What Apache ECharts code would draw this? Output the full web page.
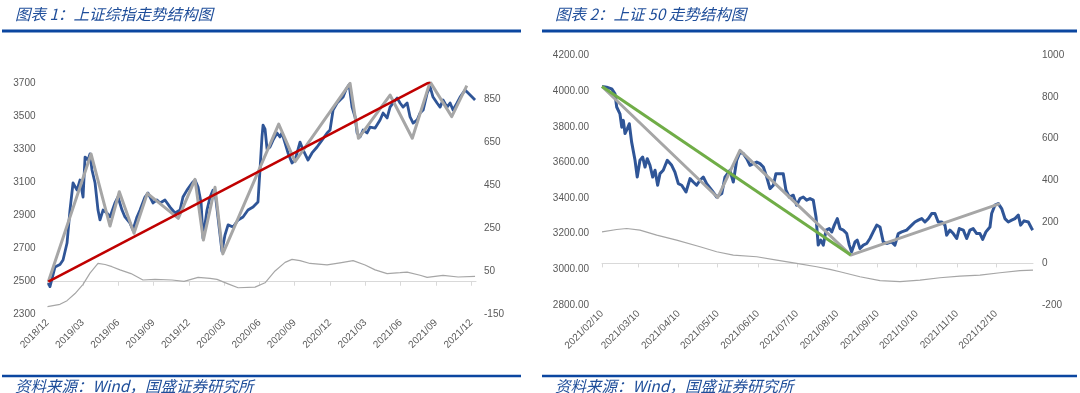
<!DOCTYPE html>
<html><head><meta charset="utf-8">
<script src="https://cdn.jsdelivr.net/npm/echarts@6/dist/echarts.min.js"></script>
<style>html,body{margin:0;padding:0;background:#fff;}#c{width:1080px;height:393px;}</style>
</head><body><div id="c"></div>
<script>
// ---------- Chart 1: 上证综指 (x = months since 2018/12 tick) ----------
const leftXLabels = ['2018/12','2019/03','2019/06','2019/09','2019/12','2020/03','2020/06','2020/09','2020/12','2021/03','2021/06','2021/09','2021/12'];
const leftXTicks = [0,3,6,9,12,15,18,21,24,27,30,33,36];
const shComposite = [
  [0.07,2488],[0.21,2466],[0.64,2585],[1.06,2600],[1.32,2627],[1.66,2730],[1.91,2930],[2.17,3094],[2.51,3051],[2.76,3112],
  [3.02,3009],[3.19,3251],[3.44,3233],[3.61,3270],[3.78,3173],[4.04,3094],[4.29,2930],[4.46,2870],[4.72,2930],[5.06,2912],
  [5.31,2888],[5.73,2973],[5.99,3009],[6.33,2930],[6.58,2888],[7.01,2851],[7.26,2809],[7.60,2888],[7.86,2930],[8.28,3009],
  [8.54,3033],[8.96,2973],[9.30,2991],[9.56,2973],[9.98,2991],[10.41,2948],[10.83,2912],[11.26,2930],[11.51,3009],[11.85,3051],
  [12.28,3094],[12.53,3112],[12.79,3070],[13.05,2973],[13.21,2760],[13.55,2930],[13.81,3009],[14.06,3051],[14.23,3040],[14.48,2888],
  [14.82,2680],[15.08,2780],[15.34,2840],[15.76,2827],[16.19,2870],[16.61,2888],[17.03,2930],[17.46,2948],[17.88,2979],[18.05,3173],
  [18.22,3373],[18.31,3445],[18.48,3420],[18.65,3300],[18.90,3312],[19.16,3354],[19.50,3397],[19.75,3373],[19.92,3397],[20.18,3336],
  [20.43,3276],[20.77,3215],[21.03,3233],[21.45,3342],[21.71,3294],[22.13,3233],[22.47,3276],[22.90,3312],[23.32,3354],[23.75,3397],
  [24.00,3415],[24.26,3536],[24.60,3579],[24.85,3597],[25.11,3615],[25.36,3660],[25.62,3690],[25.87,3554],[26.13,3494],[26.30,3397],
  [26.55,3373],[26.81,3415],[27.15,3397],[27.40,3433],[27.83,3427],[28.25,3476],[28.51,3518],[28.85,3488],[29.10,3554],[29.36,3579],
  [29.70,3609],[29.95,3579],[30.21,3554],[30.55,3579],[30.80,3494],[31.06,3457],[31.40,3476],[31.65,3518],[31.91,3536],[32.25,3639],
  [32.50,3676],[32.75,3615],[33.09,3579],[33.35,3554],[33.60,3597],[33.94,3554],[34.20,3579],[34.45,3536],[34.79,3579],[35.05,3615],
  [35.47,3657],[35.73,3639],[36.07,3615],[36.32,3597]
];
const shTrend = [
  [0.07,2496],[3.70,3270],[5.31,2833],[6.10,3041],[7.35,2789],[8.48,3031],[11.11,2880],[12.53,3116],[13.24,2748],[14.23,3068],
  [14.89,2664],[19.64,3451],[21.03,3223],[25.70,3698],[26.41,3365],[29.10,3627],[30.99,3365],[32.50,3707],[34.34,3496],[35.62,3684]
];
const shLongTrend = [[0.07,2496],[32.50,3707]];
const shIndicator = [
  [0,-116],[1.06,-105],[1.66,-88],[2.34,-55],[3.02,-12],[3.61,40],[4.29,85],[4.89,80],[5.48,70],[6.16,55],
  [7.09,38],[8.11,8],[9.13,11],[10.58,8],[11.60,2],[12.79,20],[13.81,16],[14.40,11],[15.34,-10],[16.19,-28],
  [17.63,-25],[18.48,-5],[19.33,50],[20.18,90],[20.77,104],[21.45,98],[22.30,85],[23.75,78],[24.85,88],[25.96,98],
  [26.98,78],[27.83,55],[28.85,38],[29.95,42],[30.55,45],[31.65,30],[32.25,20],[33.60,30],[34.88,22],[36.32,25]
];

// ---------- Chart 2: 上证50 (x = days since 2021/02/10) ----------
const rightXLabels = ['2021/02/10','2021/03/10','2021/04/10','2021/05/10','2021/06/10','2021/07/10','2021/08/10','2021/09/10','2021/10/10','2021/11/10','2021/12/10'];
const rightXTicks = [0,28,59,89,120,150,181,212,242,273,303];
const sz50 = [
  [0,4026],[3.6,4022],[7.5,4013],[10.0,3985],[11.3,3911],[13.8,3873],[15.2,3798],[16.4,3836],[17.7,3762],[19.5,3790],
  [21.0,3817],[22.8,3714],[25.4,3612],[27.1,3518],[29.2,3612],[31.3,3630],[33.1,3574],[34.8,3621],[36.9,3584],[39.0,3518],
  [40.8,3556],[42.8,3472],[44.6,3537],[47.1,3556],[50.2,3612],[53.6,3584],[56.1,3546],[58.7,3481],[61.3,3472],[64.6,3434],
  [67.7,3509],[70.2,3490],[72.8,3472],[75.4,3500],[77.9,3518],[80.5,3481],[84.4,3444],[88.2,3406],[92.1,3425],[94.6,3518],
  [98.4,3556],[101.0,3490],[103.6,3612],[106.1,3658],[108.7,3649],[111.3,3621],[113.8,3584],[116.4,3593],[119.0,3602],[121.5,3593],
  [124.1,3574],[126.7,3518],[129.2,3453],[131.8,3472],[133.8,3537],[136.4,3537],[139.4,3537],[141.5,3444],[144.0,3406],[147.1,3416],
  [149.7,3360],[152.3,3397],[154.8,3406],[157.4,3388],[160.0,3397],[162.5,3388],[164.6,3294],[166.3,3136],[168.2,3164],[170.2,3136],
  [172.3,3220],[174.8,3229],[176.7,3210],[178.7,3248],[181.0,3285],[183.1,3229],[185.6,3220],[188.2,3201],[190.2,3136],[192.0,3098],
  [194.6,3154],[196.3,3164],[198.4,3117],[201.0,3136],[203.6,3145],[206.1,3173],[208.6,3210],[211.3,3248],[213.8,3238],[216.3,3154],
  [218.9,3145],[222.8,3154],[225.3,3136],[227.9,3201],[230.5,3210],[234.3,3220],[238.2,3248],[240.7,3266],[243.3,3276],[245.9,3285],
  [248.4,3266],[251.0,3285],[253.6,3313],[256.1,3313],[258.6,3266],[261.2,3266],[263.8,3248],[265.1,3192],[267.6,3220],[270.2,3201],
  [272.8,3173],[274.8,3229],[277.9,3220],[280.5,3173],[283.0,3220],[285.5,3229],[288.2,3201],[290.7,3201],[292.8,3168],[295.3,3210],
  [298.4,3238],[299.7,3313],[302.2,3360],[304.8,3369],[307.4,3341],[309.9,3285],[312.5,3266],[315.1,3276],[317.6,3285],[320.2,3304],
  [322.0,3248],[324.6,3272],[327.9,3266],[330.5,3229],[331.3,3220]
];
const sz50Trend = [[0,4026],[89.0,3403],[106.1,3668],[191.3,3080],[306.1,3369]];
const sz50DownTrend = [[0,4026],[191.3,3080]];
const sz50Indicator = [
  [0,152],[11.3,163],[19.0,168],[29.2,160],[42.1,136],[57.4,112],[75.4,80],[88.2,56],[101.0,40],[119.0,32],
  [134.4,16],[149.7,0],[165.1,-16],[175.3,-29],[183.0,-40],[198.4,-64],[213.8,-83],[229.2,-88],[244.6,-80],[259.9,-69],
  [275.3,-61],[290.7,-56],[306.1,-45],[321.5,-35],[331.5,-32]
];

// ---------- rendering ----------
const TEXT_BLUE = '#1f4e9a', RULE_BLUE = '#0b46a0';
const LBL = {color:'#595959', fontSize:10, fontFamily:'"Liberation Sans", Arial, sans-serif'};
const chart = echarts.init(document.getElementById('c'), null, {renderer:'canvas'});

function yAxis(gridIndex, pos, min, max, interval, fmt, margin, hideMax) {
  return {type:'value', gridIndex, position:pos, min, max, interval,
    axisLine:{show:false}, axisTick:{show:false}, splitLine:{show:false},
    axisLabel:Object.assign({margin, formatter:fmt, showMaxLabel:!hideMax}, LBL)};
}
function xAxis(gridIndex, max, ticks, labels) {
  return {type:'value', gridIndex, min:0, max,
    axisLine:{show:true, lineStyle:{color:'#d9d9d9', width:1}},
    axisTick:{show:true, length:4, customValues:ticks, lineStyle:{color:'#d9d9d9'}},
    splitLine:{show:false},
    axisLabel:Object.assign({rotate:45, margin:7, customValues:ticks,
      formatter:v => { const i = ticks.indexOf(v); return i >= 0 ? labels[i] : ''; }}, LBL)};
}
function line(name, data, xi, yi, color, width, z) {
  return {type:'line', name, data, xAxisIndex:xi, yAxisIndex:yi, showSymbol:false, symbol:'none',
    smooth:false, lineStyle:{color, width, join:'round'}, z, silent:true};
}
function txt(x, y, text, size) {
  return {type:'text', x, y, style:{text, fill:TEXT_BLUE, fontSize:size, fontStyle:'italic',
    fontFamily:'"Noto Sans CJK SC", sans-serif', verticalAlign:'middle', align:'left'}};
}
function rule(x, y, w, h) {
  return {type:'rect', shape:{x, y, width:w, height:h}, style:{fill:RULE_BLUE}};
}

chart.setOption({
  animation:false,
  backgroundColor:'#fff',
  grid:[
    {left:47.5, top:83, width:428.5, height:231, containLabel:false, outerBoundsMode:'none'},
    {left:602, top:55.5, width:431, height:249.5, containLabel:false, outerBoundsMode:'none'}
  ],
  xAxis:[ xAxis(0, 36.4, leftXTicks, leftXLabels), xAxis(1, 331.5, rightXTicks, rightXLabels) ],
  yAxis:[
    yAxis(0, 'left', 2300, 3700, 200, v => String(v), 12, false),
    yAxis(0, 'right', -150, 924, 200, v => String(v), 8, true),
    yAxis(1, 'left', 2800, 4200, 200, v => v.toFixed(2), 13, false),
    yAxis(1, 'right', -200, 1000, 200, v => String(v), 9, false)
  ],
  series:[
    line('指标', shIndicator, 0, 1, '#a6a6a6', 1.2, 1),
    line('上证综指', shComposite, 0, 0, '#2f5597', 2.8, 2),
    line('结构', shTrend, 0, 0, '#a6a6a6', 3, 3),
    line('趋势', shLongTrend, 0, 0, '#c00000', 2.5, 4),
    line('指标', sz50Indicator, 1, 3, '#a6a6a6', 1.2, 1),
    line('上证50', sz50, 1, 2, '#2f5597', 3, 2),
    line('结构', sz50Trend, 1, 2, '#a6a6a6', 3, 3),
    line('趋势', sz50DownTrend, 1, 2, '#70ad47', 3, 4)
  ],
  graphic:[
    txt(15, 14, '图表 1：上证综指走势结构图', 15.5),
    txt(555, 14, '图表 2：上证 50 走势结构图', 15.5),
    rule(2, 29.5, 519, 3), rule(542, 29.5, 535, 3),
    rule(2, 374.8, 519, 2.5), rule(542, 374.8, 535, 2.5),
    txt(15, 386, '资料来源：Wind，国盛证券研究所', 15.5),
    txt(555, 386, '资料来源：Wind，国盛证券研究所', 15.5)
  ]
});
</script></body></html>
